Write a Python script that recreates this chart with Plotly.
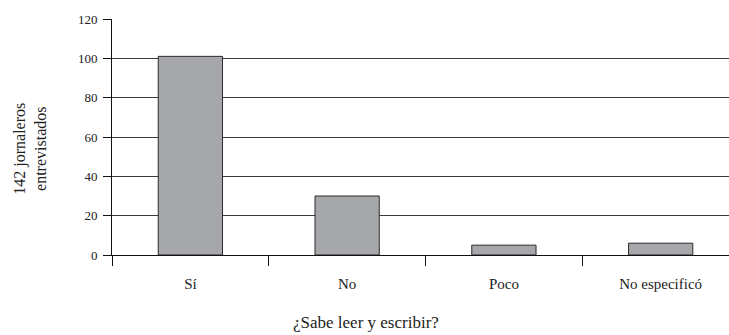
import plotly.graph_objects as go

# Respuestas a la pregunta "¿Sabe leer y escribir?" (142 jornaleros)
categorias = ["Sí", "No", "Poco", "No especificó"]
jornaleros = [101, 30, 5, 6]
y_ticks = [0, 20, 40, 60, 80, 100, 120]

FONT = "Liberation Serif"

fig = go.Figure(
    go.Bar(
        x=categorias,
        y=jornaleros,
        width=0.41,
        marker=dict(color="#a6a7aa", line=dict(color="#2b2b2b", width=1)),
    )
)

fig.update_layout(
    width=729,
    height=335,
    margin=dict(l=112, r=0, t=19, b=80),
    paper_bgcolor="white",
    plot_bgcolor="white",
    showlegend=False,
    font=dict(family=FONT, size=12, color="#222"),
)

fig.update_xaxes(
    type="category",
    range=[-0.5, 3.436],
    showline=True,
    linecolor="#111",
    linewidth=1,
    ticks="outside",
    tickson="boundaries",
    ticklen=10,
    tickcolor="#111",
    tickfont=dict(family=FONT, size=15, color="#222"),
    ticklabelstandoff=15,
    showgrid=False,
    fixedrange=True,
)

fig.update_yaxes(
    range=[0, 120],
    tickvals=y_ticks,
    showline=True,
    linecolor="#111",
    linewidth=1,
    ticks="outside",
    ticklen=8,
    tickcolor="#111",
    tickfont=dict(family=FONT, size=13, color="#222"),
    ticklabelstandoff=3,
    showgrid=True,
    gridcolor="#3a3a3a",
    gridwidth=1,
    zeroline=False,
    fixedrange=True,
)

fig.add_annotation(
    text="142 jornaleros<br>entrevistados",
    xref="paper", yref="paper",
    x=-0.133, y=0.45,
    xanchor="center", yanchor="middle",
    textangle=-90,
    showarrow=False,
    font=dict(family=FONT, size=16, color="#222"),
)

fig.add_annotation(
    text="¿Sabe leer y escribir?",
    xref="paper", yref="paper",
    x=0.412, y=-0.284,
    xanchor="center", yanchor="middle",
    showarrow=False,
    font=dict(family=FONT, size=17, color="#222"),
)

fig.write_html("out.html")
